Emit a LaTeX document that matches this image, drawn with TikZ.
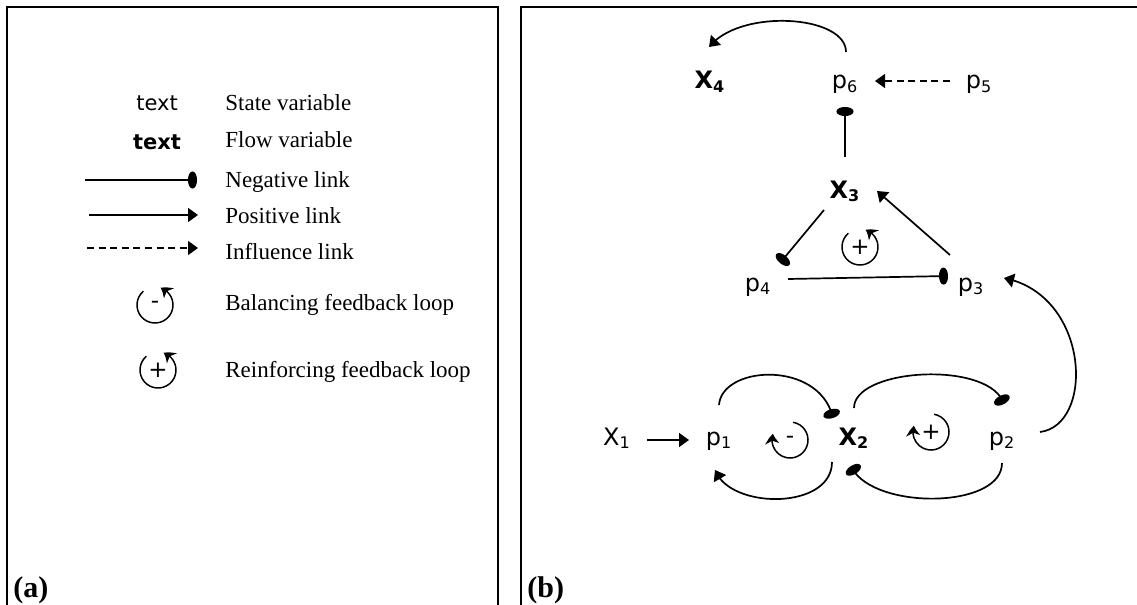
\documentclass[tikz,border=0pt]{standalone}
\usepackage{fontspec}
\setmainfont{Liberation Serif}
\newfontfamily\labf{DejaVu Sans}
\usetikzlibrary{arrows.meta,calc,bending}
\tikzset{
 frame/.style={line width=1pt},
 lgd/.style={anchor=base west, inner sep=0pt, font=\fontsize{11.5}{13}\selectfont},
 smp/.style={anchor=base, inner sep=0pt, font=\labf\fontsize{10.5}{12}\selectfont},
 smpb/.style={anchor=base, inner sep=0pt, font=\labf\bfseries\fontsize{10.5}{12}\selectfont},
 var/.style={anchor=base, inner sep=0pt, font=\labf\fontsize{12}{14}\selectfont},
 varb/.style={anchor=base, inner sep=0pt, font=\labf\bfseries\fontsize{12}{14}\selectfont},
 link/.style={line width=0.85pt},
 poslink/.style={link, -{Triangle[length=5pt,width=7pt]}},
 neglink/.style={link, -{Ellipse[length=4.5pt,width=8.5pt]}},
 inflink/.style={link, dash pattern=on 3.5pt off 2.3pt, -{Triangle[length=5pt,width=7pt]}},
 loopa/.style={line width=0.75pt, -{Stealth[length=5pt,width=7pt,inset=1.5pt,bend]}},
 sign/.style={inner sep=0pt, font=\labf\fontsize{11.5}{12}\selectfont},
 panel/.style={anchor=base west, inner sep=0pt, font=\bfseries\fontsize{15}{17}\selectfont},
}
\begin{document}
\begin{tikzpicture}[x=0.5pt,y=-0.5pt]
\useasboundingbox (0,0) rectangle (1137,605);
% frames
\draw[frame] (7,610) -- (7,7) -- (498,7) -- (498,610);
\draw[frame] (521,610) -- (521,7) -- (1140,7);
\node[panel] (pa) at (13,597) {(a)};
\node[panel] (pb) at (527,597) {(b)};

% ---------- legend (a)
\node[smp]  (ts) at (157,110) {text};
\node[smpb] (tf) at (157,149) {text};
\node[lgd] (ls) at (225,110) {State variable};
\node[lgd] (lf) at (225,148) {Flow variable};
\node[lgd] (ln) at (225,187) {Negative link};
\node[lgd] (lp) at (225,223) {Positive link};
\node[lgd] (li) at (225,259) {Influence link};
\node[lgd] (lb) at (225,310) {Balancing feedback loop};
\node[lgd] (lr) at (225,377) {Reinforcing feedback loop};

\coordinate (n0) at (85,180);  \coordinate (n1) at (197,180);
\coordinate (q0) at (89,215);  \coordinate (q1) at (198,215);
\coordinate (i0) at (87,248);  \coordinate (i1) at (198,248);
\draw[neglink] (n0) -- (n1);
\draw[poslink] (q0) -- (q1);
\draw[inflink] (i0) -- (i1);

\node[sign] (sb) at (155,305) {-};
\draw[loopa] ($(sb)+(-130:18)$) arc[start angle=-130, end angle=-432, radius=18];
\node[sign] (sr) at (158,370) {+};
\draw[loopa] ($(sr)+(-130:18)$) arc[start angle=-130, end angle=-432, radius=18];

% ---------- diagram (b)
\node[var]  (X1) at (617,445) {X\textsubscript{1}};
\node[var]  (p1) at (719,445) {p\textsubscript{1}};
\node[varb] (X2) at (854,445) {X\textsubscript{2}};
\node[var]  (p2) at (1002,445) {p\textsubscript{2}};
\node[var]  (p3) at (971,291) {p\textsubscript{3}};
\node[var]  (p4) at (758,291) {p\textsubscript{4}};
\node[varb] (X3) at (845,198) {X\textsubscript{3}};
\node[varb] (X4) at (710,89) {X\textsubscript{4}};
\node[var]  (p6) at (845,89) {p\textsubscript{6}};
\node[var]  (p5) at (979,89) {p\textsubscript{5}};

\draw[poslink] ($(X1.base)+(30,-5)$) -- ($(p1.base)+(-30,-5)$);
\draw[neglink] ($(p1.base)+(0,-40)$) .. controls (722,365) and (820,360) .. ($(X2.base)+(-21,-27)$);
\draw[poslink] ($(X2.base)+(-22,17)$) .. controls (832,510) and (730,510) .. ($(p1.base)+(-4,25)$);
\draw[neglink] ($(X2.base)+(0,-37)$) .. controls (854,368) and (990,360) .. ($(p2.base)+(2,-41)$);
\draw[neglink] ($(p2.base)+(0,18)$) .. controls (1002,510) and (870,510) .. ($(X2.base)+(-3,21)$);
\draw[poslink] ($(p2.base)+(38,-13)$) .. controls (1095,425) and (1090,295) .. ($(p3.base)+(33,-13)$);
\draw[neglink] ($(p4.base)+(30,-12)$) -- ($(p3.base)+(-23,-15)$);
\draw[neglink] ($(X3.base)+(-21,12)$) -- ($(p4.base)+(22,-28)$);
\draw[poslink] ($(p3.base)+(-21,-36)$) -- ($(X3.base)+(32,-7)$);
\draw[neglink] ($(X3.base)+(0,-41)$) -- ($(p6.base)+(0,18)$);
\draw[inflink] ($(p5.base)+(-29,-8)$) -- ($(p6.base)+(30,-8)$);
\draw[poslink] ($(p6.base)+(1,-37)$) .. controls (846,15) and (740,8) .. ($(X4.base)+(-1,-42)$);

\node[sign] (st) at (860,247) {+};
\draw[loopa] ($(st)+(-130:18)$) arc[start angle=-130, end angle=-432, radius=18];
\node[sign] (sm) at (790,440) {-};
\draw[loopa] ($(sm)+(-80:18)$) arc[start angle=-80, end angle=200, radius=18];
\node[sign] (sp) at (931,432) {+};
\draw[loopa] ($(sp)+(-80:18)$) arc[start angle=-80, end angle=200, radius=18];
\end{tikzpicture}
\end{document}
